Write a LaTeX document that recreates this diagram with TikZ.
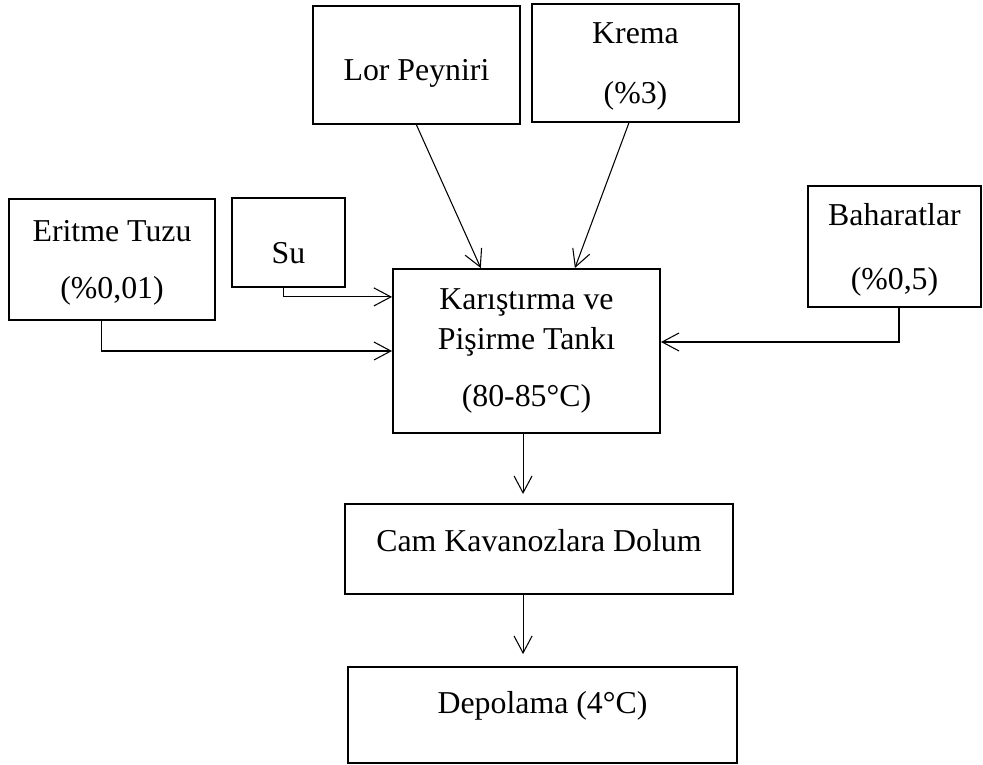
\documentclass[tikz,border=0pt]{standalone}
\usepackage{fontspec}
\setmainfont{Liberation Serif}
\usetikzlibrary{arrows.meta,positioning,calc}

\begin{document}
\begin{tikzpicture}[
  x=0.377pt, y=-0.377pt,
  box/.style={draw, line width=0.75pt, fill=white, align=center, inner sep=0pt, font=\fontsize{12pt}{14pt}\selectfont},
  wh/.style 2 args={minimum width=#1*0.377pt, minimum height=#2*0.377pt},
  flow/.style={line width=0.4pt, -{Straight Barb[length=6.4pt,width=6.8pt]}}
]
\useasboundingbox (0,0) rectangle (983,765);
% inputs
\node[box, wh={207}{118}, text height=14pt] (lor) at (416.5,65) {Lor Peyniri};
\node[box, wh={207}{118}, text depth=-1.2pt] (krema) at (635.5,63) {Krema\\[8.6pt](\%3)};
\node[box, wh={206}{121}, text depth=-1.2pt] (tuz) at (112,259.5) {Eritme Tuzu\\[7.5pt](\%0,01)};
\node[box, wh={113}{89}, text height=16pt] (su) at (288.5,242.5) {Su};
\node[box, wh={173}{121}, text depth=-1.2pt] (baharat) at (894.5,246.5) {Baharatlar\\[9.8pt](\%0,5)};
% process
\node[box, wh={267}{164}] (tank) at (526.5,351) {Karıştırma ve\\[1pt]Pişirme Tankı\\[7.5pt](80-85°C)};
\node[box, wh={388}{90}, text depth=6.8pt] (dolum) at (539,549) {Cam Kavanozlara Dolum};
\node[box, wh={389}{96}, text depth=9.7pt] (depo) at (542.5,715) {Depolama (4°C)};

\draw[flow] (lor.south) -- ($(tank.north west)!0.33!(tank.north east)$);
\draw[flow] ([xshift=-2.5pt]krema.south) -- ($(tank.north west)!0.68!(tank.north east)$);
\draw[flow] ([xshift=-2pt]su.south) |- ([yshift=20.4pt]tank.west);
\draw[flow] ([xshift=-4pt]tuz.south) |- (tank.west);
\draw[flow] ([xshift=1.7pt]baharat.south) |- ([yshift=3.4pt]tank.east);
\draw[flow, shorten >=3.4pt] ([xshift=-1.3pt]tank.south) -- ([xshift=-1.3pt]tank.south |- dolum.north);
\draw[flow, shorten >=4.5pt] ([xshift=-1.3pt]tank.south |- dolum.south) -- ([xshift=-1.3pt]tank.south |- depo.north);
\end{tikzpicture}
\end{document}
